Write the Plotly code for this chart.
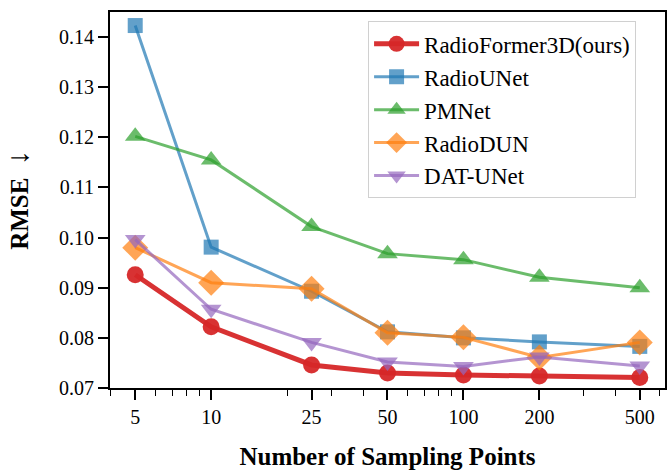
import plotly.graph_objects as go

x_points = [5, 10, 25, 50, 100, 200, 500]
x_tick_labels = ["5", "10", "25", "50", "100", "200", "500"]

radioformer3d = [0.0926, 0.0822, 0.0746, 0.0730, 0.0726, 0.0724, 0.0721]
radiounet = [0.1423, 0.0981, 0.0893, 0.0812, 0.0800, 0.0792, 0.0783]
pmnet = [0.1202, 0.1155, 0.1022, 0.0968, 0.0956, 0.0921, 0.0900]
radiodun = [0.0980, 0.0910, 0.0898, 0.0810, 0.0801, 0.0761, 0.0791]
datunet = [0.0996, 0.0857, 0.0791, 0.0752, 0.0743, 0.0762, 0.0744]

y_ticks = [0.07, 0.08, 0.09, 0.10, 0.11, 0.12, 0.13, 0.14]
y_tick_labels = ["0.07", "0.08", "0.09", "0.10", "0.11", "0.12", "0.13", "0.14"]

minor_x = [4, 6, 7, 8, 9, 20, 30, 40, 60, 70, 80, 90, 300, 400, 600]

series = [
    ("RadioFormer3D(ours)", radioformer3d, "rgba(214,39,40,0.95)", "circle", 17, 5),
    ("RadioUNet", radiounet, "rgba(31,119,180,0.7)", "square", 15, 3),
    ("PMNet", pmnet, "rgba(44,160,44,0.7)", "triangle-up", 18, 3),
    ("RadioDUN", radiodun, "rgba(255,127,14,0.7)", "diamond", 20, 3),
    ("DAT-UNet", datunet, "rgba(148,103,189,0.7)", "triangle-down", 18, 3),
]

fig = go.Figure()
for name, vals, color, sym, msize, lw in series:
    fig.add_trace(go.Scatter(
        x=x_points, y=vals, name=name, mode="lines+markers",
        line=dict(color=color, width=lw),
        marker=dict(symbol=sym, size=msize, color=color, line=dict(width=0)),
    ))

font_family = "Liberation Serif, Times New Roman, serif"
fig.update_layout(
    width=668, height=470,
    margin=dict(l=110, r=3, t=12, b=82),
    paper_bgcolor="white", plot_bgcolor="white",
    font=dict(family=font_family, color="black", size=20),
    legend=dict(
        x=0.465, y=0.975, xanchor="left", yanchor="top",
        font=dict(family=font_family, size=23, color="black"),
        bgcolor="rgba(255,255,255,0.85)", bordercolor="#d0d0d0", borderwidth=1,
        itemwidth=45, tracegroupgap=0,
    ),
    showlegend=True,
)
fig.update_xaxes(
    type="log", range=[0.599, 2.799], automargin=False,
    tickvals=x_points, ticktext=x_tick_labels,
    ticks="outside", ticklen=10, tickwidth=1.5, tickcolor="black",
    minor=dict(tickvals=minor_x, ticks="outside", ticklen=6, tickwidth=1.2, tickcolor="black"),
    showline=True, linecolor="black", linewidth=2, mirror=True,
    showgrid=False, zeroline=False,
    tickfont=dict(size=20, family=font_family),
    title=dict(text="<b>Number of Sampling Points</b>", font=dict(size=25, family=font_family), standoff=20),
)
fig.update_yaxes(
    range=[0.07, 0.145], automargin=False,
    tickvals=y_ticks, ticktext=y_tick_labels,
    ticks="outside", ticklen=10, tickwidth=1.5, tickcolor="black",
    showline=True, linecolor="black", linewidth=2, mirror=True,
    showgrid=False, zeroline=False,
    tickfont=dict(size=20, family=font_family),
    title=dict(text="<b>RMSE  <span style='font-size:30px'>↓</span></b>",
               font=dict(size=25, family=font_family), standoff=23),
)

fig.write_html(
    "out.html",
    config={"displayModeBar": False},
    post_script="document.body.style.margin='0';document.body.style.padding='0';",
)
